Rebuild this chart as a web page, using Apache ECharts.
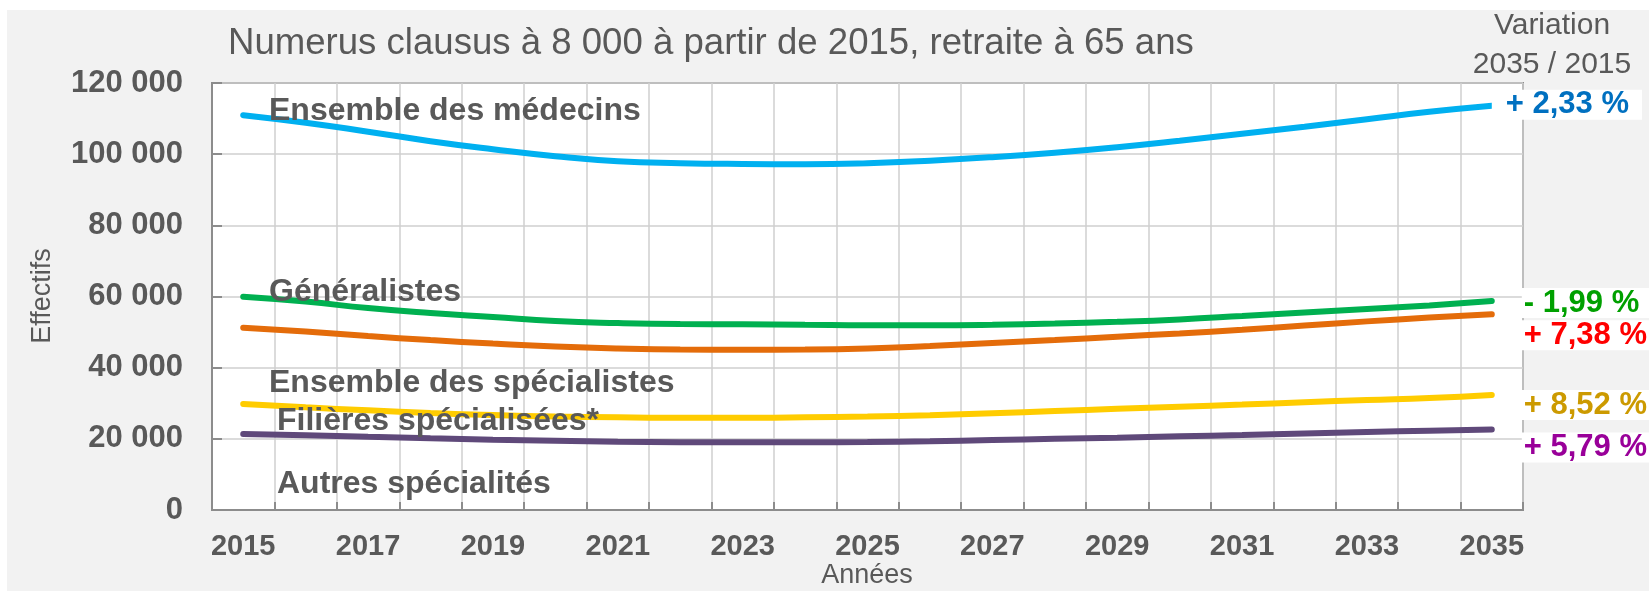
<!DOCTYPE html>
<html>
<head>
<meta charset="utf-8">
<script src="https://cdn.jsdelivr.net/npm/echarts@6/dist/echarts.min.js"></script>
<style>
  html, body { margin: 0; padding: 0; background: #ffffff; }
  #bg { position: absolute; left: 7px; top: 10px; width: 1642px; height: 581px; background: #f2f2f2; }
  #chart { position: absolute; left: 0; top: 0; width: 1649px; height: 591px; }
</style>
</head>
<body>
<div id="bg"></div>
<div id="chart"></div>
<script>
const years = ['2015','2016','2017','2018','2019','2020','2021','2022','2023','2024','2025',
               '2026','2027','2028','2029','2030','2031','2032','2033','2034','2035'];

const seriesNames = ['Ensemble des médecins', 'Généralistes', 'Ensemble des spécialistes',
                     'Filières spécialisées*', 'Autres spécialités'];

const medecins = [110960, 108850, 106320, 103650, 101400, 99440, 98030, 97470, 97250, 97190, 97470,
                  98170, 99160, 100420, 101970, 103790, 105760, 107730, 109830, 111900, 113600];
const generalistes = [59920, 58570, 56740, 55340, 54210, 53090, 52530, 52250, 52190, 52050, 51910,
                      51910, 52050, 52390, 52890, 53570, 54500, 55480, 56460, 57500, 58720];
const specialistes = [51210, 50140, 48880, 47750, 46770, 45930, 45370, 45080, 45030, 45080, 45370,
                      46070, 46910, 47750, 48680, 49630, 50650, 51830, 53010, 54070, 54990];
const filieres = [29780, 28850, 28010, 27250, 26690, 26260, 26040, 25930, 25930, 26040, 26260,
                  26630, 27190, 27810, 28430, 29020, 29630, 30280, 30900, 31460, 32310];
const autres = [21350, 20980, 20560, 20140, 19750, 19440, 19190, 19050, 19020, 19020, 19100,
                19330, 19660, 20000, 20310, 20700, 21070, 21490, 21910, 22280, 22600];

const variations = ['+ 2,33 %', '- 1,99 %', '+ 7,38 %', '+ 8,52 %', '+ 5,79 %'];
const yTicks = { min: 0, max: 120000, interval: 20000 };

const titleText = 'Numerus clausus à 8 000 à partir de 2015, retraite à 65 ans';
const variationHeader = ['Variation', '2035 / 2015'];
const yAxisTitle = 'Effectifs';
const xAxisTitle = 'Années';

const FONT = '"Liberation Sans", Arial, sans-serif';
const GRAY = '#595959';

const lineColors = ['#00b0f0', '#00b050', '#e46c0a', '#ffcc00', '#5f497a'];
const labelColors = ['#0070c0', '#00a000', '#ff0000', '#cc9a00', '#990099'];
// end label placement (layout only)
const endLabelLayout = [
  { distance: 0,  padding: [0, 13, 0, 14], dy: -1 },
  { distance: 30, padding: [0, 12, 0, 2],  dy: 2 },
  { distance: 30, padding: [0, 12, 0, 2],  dy: 21 },
  { distance: 30, padding: [0, 12, 0, 2],  dy: 10 },
  { distance: 30, padding: [0, 12, 0, 2],  dy: 18 }
];
const dataSets = [medecins, generalistes, specialistes, filieres, autres];

const fmt = v => String(v).replace(/\B(?=(\d{3})+(?!\d))/g, ' ');

const chart = echarts.init(document.getElementById('chart'), null, { renderer: 'canvas' });

const series = dataSets.map((d, i) => ({
  name: seriesNames[i],
  type: 'line',
  data: d,
  smooth: true,
  showSymbol: false,
  symbol: 'none',
  z: 5 - i + 2,
  lineStyle: { color: lineColors[i], width: 6, cap: 'round' },
  endLabel: {
    show: true,
    formatter: variations[i],
    color: labelColors[i],
    fontFamily: FONT,
    fontWeight: 'bold',
    fontSize: 31,
    lineHeight: 30,
    backgroundColor: '#ffffff',
    padding: endLabelLayout[i].padding,
    distance: endLabelLayout[i].distance,
    offset: [0, endLabelLayout[i].dy]
  },
  emphasis: { disabled: true }
}));

const seriesLabelPos = [
  { x: 269, y: 111 },
  { x: 269, y: 292 },
  { x: 269, y: 383 },
  { x: 277, y: 421 },
  { x: 277, y: 484 }
];

const graphics = [
  { type: 'text', x: 228, y: 44, z: 100,
    style: { text: titleText, fill: GRAY, font: `36.6px ${FONT}`, textAlign: 'left', textVerticalAlign: 'middle' } },
  { type: 'text', x: 1552, y: 26, z: 100,
    style: { text: variationHeader[0], fill: GRAY, font: `30px ${FONT}`, textAlign: 'center', textVerticalAlign: 'middle' } },
  { type: 'text', x: 1552, y: 65, z: 100,
    style: { text: variationHeader[1], fill: GRAY, font: `30px ${FONT}`, textAlign: 'center', textVerticalAlign: 'middle' } },
  { type: 'text', x: 43, y: 296, rotation: Math.PI / 2, z: 100,
    style: { text: yAxisTitle, fill: GRAY, font: `27px ${FONT}`, textAlign: 'center', textVerticalAlign: 'middle' } },
  { type: 'text', x: 867, y: 576, z: 100,
    style: { text: xAxisTitle, fill: GRAY, font: `27px ${FONT}`, textAlign: 'center', textVerticalAlign: 'middle' } }
].concat(seriesNames.map((n, i) => ({
  type: 'text', x: seriesLabelPos[i].x, y: seriesLabelPos[i].y, z: 100,
  style: { text: n, fill: GRAY, font: `bold 32px ${FONT}`, textAlign: 'left', textVerticalAlign: 'middle' }
})));

chart.setOption({
  animation: false,
  backgroundColor: 'transparent',
  grid: {
    left: 212, top: 83, width: 1311, height: 427,
    show: true, backgroundColor: '#ffffff', borderColor: '#8c8c8c', borderWidth: 2
  },
  xAxis: {
    type: 'category',
    data: years,
    boundaryGap: true,
    axisLine: { show: true, lineStyle: { color: '#8c8c8c', width: 2 } },
    axisTick: { show: true, inside: true, length: 8, interval: 0, lineStyle: { color: '#8c8c8c', width: 2 } },
    splitLine: { show: true, interval: 0, lineStyle: { color: '#cfcfcf', width: 1.5 } },
    axisLabel: { interval: 1, color: GRAY, fontFamily: FONT, fontWeight: 'bold', fontSize: 29, margin: 22 }
  },
  yAxis: {
    type: 'value',
    min: yTicks.min, max: yTicks.max, interval: yTicks.interval,
    axisLine: { show: true, lineStyle: { color: '#8c8c8c', width: 2 } },
    axisTick: { show: true, inside: true, length: 10, lineStyle: { color: '#8c8c8c', width: 2 } },
    splitLine: { show: true, lineStyle: { color: '#cfcfcf', width: 1.5 } },
    axisLabel: { color: GRAY, fontFamily: FONT, fontWeight: 'bold', fontSize: 31, margin: 29, formatter: fmt }
  },
  series: series,
  graphic: graphics
});
</script>
</body>
</html>
